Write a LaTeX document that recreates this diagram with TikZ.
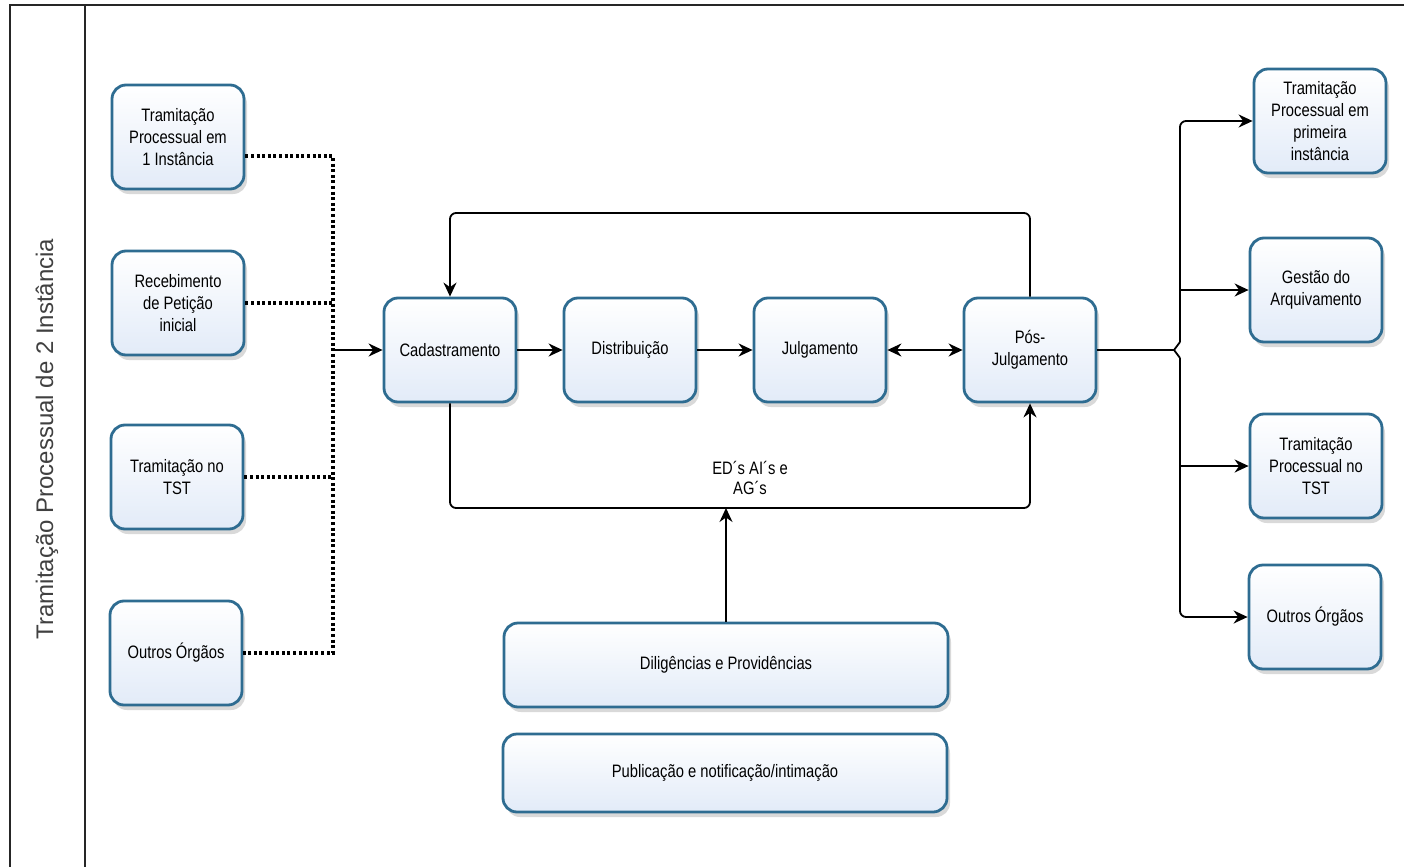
\documentclass[tikz,border=0pt]{standalone}
\usepackage{fontspec}
\setmainfont[FakeStretch=0.82]{Liberation Sans}
\newfontfamily\lanefont{Liberation Sans}
\usetikzlibrary{arrows.meta,shadows,calc}
\definecolor{boxborder}{RGB}{46,108,145}
\definecolor{boxfill}{RGB}{226,235,248}
\begin{document}
\begin{tikzpicture}[x=0.5pt,y=-0.5pt,
  proc/.style={draw=boxborder, line width=1.4pt, rounded corners=7pt,
    top color=white, bottom color=boxfill,
    drop shadow={shadow xshift=1.5pt, shadow yshift=-2.5pt, opacity=0.25, fill=black!60},
    minimum width=66pt, minimum height=52pt, align=center,
    font=\fontsize{9}{11}\selectfont, inner sep=2pt},
  wide/.style={proc, minimum width=222pt, minimum height=42pt},
  conn/.style={line width=0.9pt, black},
  arr/.style={conn, -{Stealth[length=7pt,width=6.5pt]}},
  darr/.style={conn, {Stealth[length=7pt,width=6.5pt]}-{Stealth[length=7pt,width=6.5pt]}},
  dotline/.style={line width=1.6pt, dash pattern=on 1.5pt off 1.3pt},
  lane/.style={line width=0.8pt, black!85}
]
\useasboundingbox (0,0) rectangle (1404,867);
% lane frame
\draw[lane] (10,867) -- (10,5) -- (1404,5);
\draw[lane] (85,5) -- (85,867);
\node[rotate=90, font=\lanefont\fontsize{12}{14}\selectfont, text=black!75] (lanetitle) at (47,439) {Tramitação Processual de 2 Instância};

% left column
\node[proc] (b1) at (178,137) {Tramitação\\Processual em\\1 Instância};
\node[proc] (b2) at (178,303) {Recebimento\\de Petição\\inicial};
\node[proc] (b3) at (177,477) {Tramitação no\\TST};
\node[proc] (b4) at (176,653) {Outros Órgãos};

% center row
\node[proc] (cad) at (450,350) {Cadastramento};
\node[proc] (dist) at (630,350) {Distribuição};
\node[proc] (jul) at (820,350) {Julgamento};
\node[proc] (pos) at (1030,350) {Pós-\\Julgamento};

% bottom boxes
\node[wide] (dil) at (726,665) {Diligências e Providências};
\node[wide, minimum height=39pt] (pub) at (725,773) {Publicação e notificação/intimação};

% right column
\node[proc] (r1) at (1320,121) {Tramitação\\Processual em\\primeira\\instância};
\node[proc] (r2) at (1316,290) {Gestão do\\Arquivamento};
\node[proc] (r3) at (1316,466) {Tramitação\\Processual no\\TST};
\node[proc] (r4) at (1315,617) {Outros Órgãos};

% dotted collector
\coordinate (jtop) at (333,156);
\coordinate (jin) at (333,350);
\draw[dotline] (b1.east |- jtop) -- (jtop) -- (jtop |- b4.east) -- (b4.east);
\draw[dotline] (b2.east) -- (b2.east -| jtop);
\draw[dotline] (b3.east) -- (b3.east -| jtop);
\draw[arr] (jin) -- (cad.west);

% main flow
\draw[arr] (cad.east) -- (dist.west);
\draw[arr] (dist.east) -- (jul.west);
\draw[darr] (jul.east) -- (pos.west);

% top loop
\coordinate (ltop) at (0,213);
\draw[arr, rounded corners=3pt] (pos.north) -- (pos.north |- ltop) -- (cad.north |- ltop) -- (cad.north);

% bottom loop
\coordinate (lbot) at (0,508);
\draw[arr, rounded corners=3pt] (cad.south) -- (cad.south |- lbot) -- (pos.south |- lbot) -- (pos.south);
\node[font=\fontsize{9}{10}\selectfont, align=center] (eds) at (750,478) {ED´s AI´s e\\AG´s};
\coordinate (dilin) at (dil.north |- lbot);
\draw[arr] (dil.north) -- (dilin);

% right distributor
\coordinate (rx) at (1180,350);
\draw[conn] (pos.east) -- ($(rx)+(-6,0)$);
\draw[conn] ($(rx)+(0,-8)$) -- ($(rx)+(-6,0)$) -- ($(rx)+(0,8)$);
\draw[arr, rounded corners=3pt] ($(rx)+(0,-8)$) -- (rx |- r1.west) -- (r1.west);
\draw[arr, rounded corners=3pt] ($(rx)+(0,8)$) -- (rx |- r4.west) -- (r4.west);
\draw[arr] (rx |- r2.west) -- (r2.west);
\draw[arr] (rx |- r3.west) -- (r3.west);
\end{tikzpicture}
\end{document}
